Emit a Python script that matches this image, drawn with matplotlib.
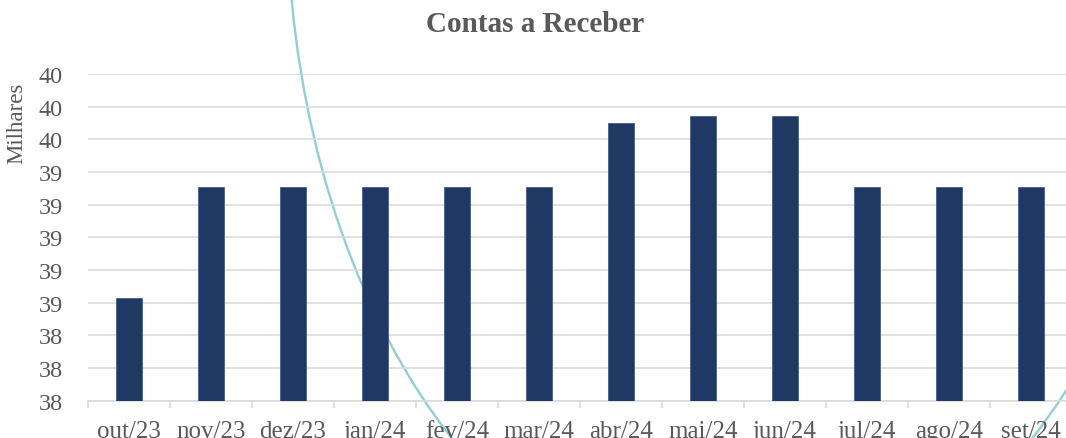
import matplotlib
matplotlib.use("Agg")
import matplotlib.pyplot as plt
from matplotlib.patches import Ellipse

categories = ["out/23", "nov/23", "dez/23", "jan/24", "fev/24", "mar/24",
              "abr/24", "mai/24", "jun/24", "jul/24", "ago/24", "set/24"]
values = [38.63, 39.31, 39.31, 39.31, 39.31, 39.31,
          39.70, 39.74, 39.74, 39.31, 39.31, 39.31]
y_tick_values = [38.0, 38.2, 38.4, 38.6, 38.8, 39.0, 39.2, 39.4, 39.6, 39.8, 40.0]
y_tick_labels = ["38", "38", "38", "39", "39", "39", "39", "39", "40", "40", "40"]
title = "Contas a Receber"
y_label = "Milhares"

TEXT = "#595959"
GRID = "#D9D9D9"
BAR = "#203864"
FONT = "Liberation Serif"

plt.rcParams["font.family"] = [FONT, "DejaVu Serif"]

W, H = 1066, 439
fig = plt.figure(figsize=(W / 100, H / 100), dpi=100)
fig.patch.set_facecolor("white")

# decorative background arc
arc = Ellipse((742 / W, (H + 98.6) / H), 910 / W, 1397 / H,
              transform=fig.transFigure, fill=False,
              edgecolor="#93CED7", linewidth=1.7, zorder=-1)
fig.patches.append(arc)

ax = fig.add_axes([88 / W, (H - 401.7) / H, 984 / W, 326.7 / H])
ax.set_facecolor("none")

x = list(range(len(categories)))
ax.bar(x, values, width=0.313, color=BAR, zorder=3,
       edgecolor="#3A5282", linewidth=0.5)

ax.set_xlim(-0.5, len(categories) - 0.5)
ax.set_ylim(y_tick_values[0], y_tick_values[-1])
ax.set_yticks(y_tick_values)
ax.set_yticklabels(y_tick_labels)
ax.set_xticks(x)
ax.set_xticklabels(categories)
ax.set_xticks([i - 0.5 for i in range(len(categories) + 1)], minor=True)

ax.grid(axis="y", color=GRID, linewidth=1.1, zorder=0)
ax.set_axisbelow(True)
for s in ["top", "right", "left"]:
    ax.spines[s].set_visible(False)
ax.spines["bottom"].set_color(GRID)
ax.spines["bottom"].set_linewidth(1.1)

ax.tick_params(axis="y", length=0, pad=18, labelsize=17.5, labelcolor=TEXT)
ax.tick_params(axis="x", which="major", length=0, pad=14, labelsize=18, labelcolor=TEXT)
ax.tick_params(axis="x", which="minor", length=5, width=1.1, color=GRID)

fig.text(17 / W, 1 - 123 / H, y_label, rotation=90, ha="center", va="center",
         fontsize=16.5, color=TEXT)
fig.text(535 / W, 1 - 25 / H, title, ha="center", va="center",
         fontsize=21, fontweight="bold", color=TEXT)

fig.savefig("out.png", dpi=100)
